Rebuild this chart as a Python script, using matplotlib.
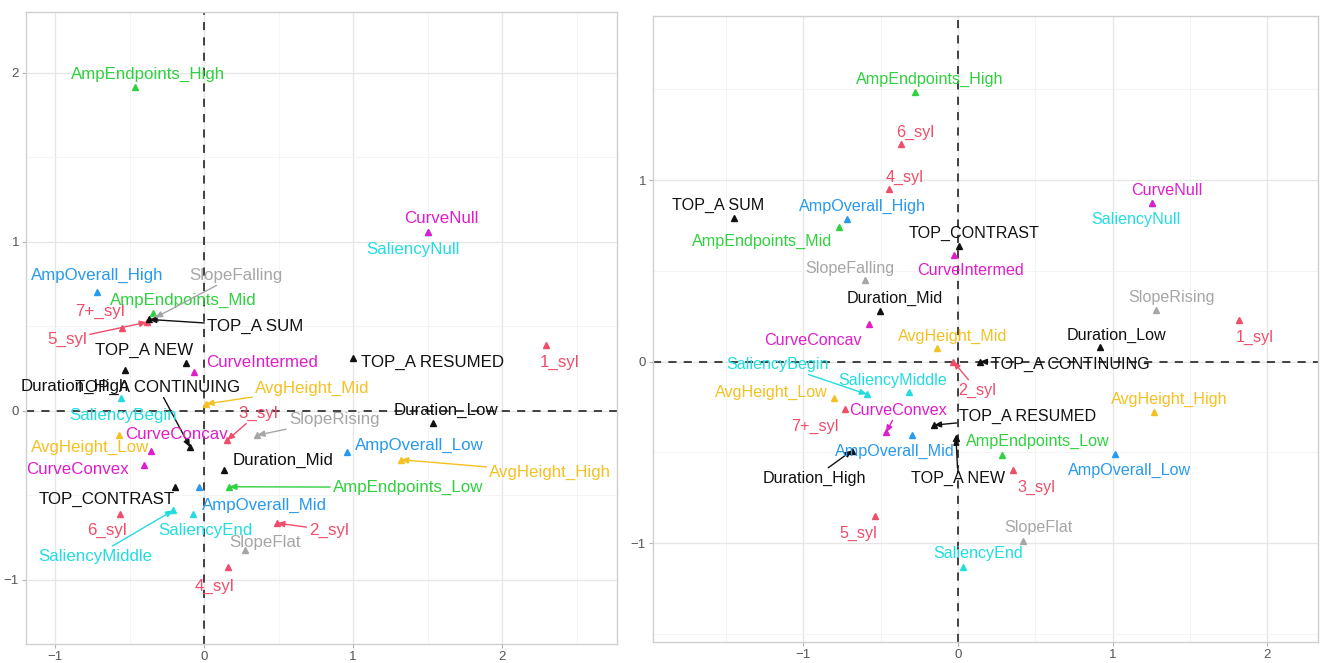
import numpy as np
import matplotlib
matplotlib.use("Agg")
import matplotlib.pyplot as plt
from matplotlib.ticker import MultipleLocator

plt.rcParams['font.family'] = ['Liberation Sans', 'DejaVu Sans']

# Category names (shared by both maps)
names = ["1_syl", "2_syl", "3_syl", "4_syl", "5_syl", "6_syl", "7+_syl",
         "TOP_A NEW", "TOP_A CONTINUING", "TOP_A RESUMED", "TOP_A SUM", "TOP_CONTRAST",
         "Duration_Low", "Duration_Mid", "Duration_High",
         "AmpEndpoints_Low", "AmpEndpoints_Mid", "AmpEndpoints_High",
         "AmpOverall_Low", "AmpOverall_Mid", "AmpOverall_High",
         "AvgHeight_Low", "AvgHeight_Mid", "AvgHeight_High",
         "CurveConcav", "CurveConvex", "CurveIntermed", "CurveNull",
         "SaliencyBegin", "SaliencyMiddle", "SaliencyEnd", "SaliencyNull",
         "SlopeFalling", "SlopeFlat", "SlopeRising"]

# Left map coordinates (dim 1, dim 2)
left_x = [2.295, 0.49, 0.154, 0.16, -0.383, -0.564, -0.55,
          -0.12, -0.094, 1.0, -0.369, -0.195,
          1.537, 0.134, -0.53,
          0.168, -0.342, -0.463,
          0.96, -0.034, -0.718,
          -0.57, 0.013, 1.32,
          -0.356, -0.40, -0.067, 1.50,
          -0.557, -0.208, -0.074, 1.50,
          -0.33, 0.275, 0.356]
left_y = [0.39, -0.665, -0.175, -0.925, 0.524, -0.61, 0.49,
          0.28, -0.216, 0.31, 0.54, -0.45,
          -0.074, -0.35, 0.24,
          -0.45, 0.577, 1.915,
          -0.245, -0.45, 0.70,
          -0.145, 0.04, -0.29,
          -0.24, -0.32, 0.228, 1.06,
          0.074, -0.59, -0.61, 1.06,
          0.55, -0.825, -0.145]

# Right map coordinates (dim 1, dim 2)
right_x = [1.82, -0.03, 0.356, -0.446, -0.54, -0.37, -0.73,
           -0.013, 0.142, -0.155, -1.45, 0.006,
           0.92, -0.505, -0.686,
           0.285, -0.77, -0.28,
           1.015, -0.30, -0.72,
           -0.80, -0.136, 1.27,
           -0.576, -0.466, -0.026, 1.255,
           -0.59, -0.32, 0.03, 1.255,
           -0.60, 0.42, 1.28]
right_y = [0.23, 0.0, -0.60, 0.95, -0.85, 1.20, -0.26,
           -0.42, 0.0, -0.35, 0.79, 0.636,
           0.08, 0.28, -0.49,
           -0.515, 0.74, 1.485,
           -0.51, -0.405, 0.785,
           -0.20, 0.075, -0.28,
           0.207, -0.39, 0.59, 0.875,
           -0.18, -0.17, -1.13, 0.875,
           0.45, -0.99, 0.285]

# Label placement (repelled label centres, data units)
left_lab_x = [2.383, 0.839, 0.362, 0.067, -0.919, -0.651, -0.698,
              -0.403, -0.309, 1.530, 0.342, -0.651,
              1.624, 0.530, -0.866,
              1.369, -0.141, -0.376,
              1.443, 0.403, -0.718,
              -0.765, 0.725, 2.322,
              -0.188, -0.852, 0.389, 1.591,
              -0.544, -0.732, 0.007, 1.403,
              0.215, 0.409, 0.872]
left_lab_y = [0.287, -0.707, -0.015, -1.039, 0.423, -0.707, 0.589,
              0.358, 0.139, 0.287, 0.500, -0.524,
              0.003, -0.293, 0.145,
              -0.453, 0.654, 1.991,
              -0.204, -0.559, 0.802,
              -0.216, 0.133, -0.364,
              -0.139, -0.346, 0.287, 1.139,
              -0.027, -0.861, -0.707, 0.956,
              0.802, -0.778, -0.050]
right_lab_x = [1.922, 0.123, 0.505, -0.343, -0.647, -0.278, -0.926,
               0.0, 0.725, 0.453, -1.553, 0.104,
               1.023, -0.408, -0.932,
               0.518, -1.269, -0.181,
               1.113, -0.408, -0.621,
               -1.210, -0.032, 1.366,
               -0.939, -0.388, 0.078, 1.353,
               -1.165, -0.421, 0.129, 1.152,
               -0.699, 0.518, 1.379]
right_lab_y = [0.135, -0.157, -0.691, 1.017, -0.945, 1.264, -0.355,
               -0.642, -0.014, -0.300, 0.862, 0.708,
               0.146, 0.350, -0.642,
               -0.438, 0.664, 1.556,
               -0.598, -0.493, 0.857,
               -0.168, 0.140, -0.207,
               0.118, -0.267, 0.504, 0.945,
               -0.014, -0.102, -1.055, 0.785,
               0.515, -0.912, 0.355]

left_lines = {"SlopeFalling", "TOP_A SUM", "5_syl", "TOP_A CONTINUING", "AvgHeight_Mid",
              "3_syl", "SlopeRising", "AvgHeight_High", "AmpEndpoints_Low",
              "SaliencyMiddle", "2_syl"}
right_lines = {"SaliencyBegin", "2_syl", "CurveConvex", "TOP_A RESUMED", "TOP_A NEW",
               "Duration_High", "TOP_A CONTINUING"}

group_colors = [("_syl", "#F04D6A"), ("TOP_", "#111111"), ("Duration", "#111111"),
                ("AmpEndpoints", "#2FD13F"), ("AmpOverall", "#2799F0"),
                ("AvgHeight", "#F5C022"), ("Curve", "#E01DCC"),
                ("Saliency", "#22DCE0"), ("Slope", "#A6A6A6")]


def color_of(name):
    for key, col in group_colors:
        if key in name:
            return col
    return "black"


def draw_map(ax, xs, ys, lx, ly, lines, fs, xlim, ylim):
    ax.set_xlim(*xlim)
    ax.set_ylim(*ylim)
    ax.xaxis.set_major_locator(MultipleLocator(1))
    ax.yaxis.set_major_locator(MultipleLocator(1))
    ax.xaxis.set_minor_locator(MultipleLocator(0.5))
    ax.yaxis.set_minor_locator(MultipleLocator(0.5))
    ax.grid(which="major", color="#e6e6e6", lw=0.9)
    ax.grid(which="minor", color="#f2f2f2", lw=0.6)
    ax.set_axisbelow(True)
    for sp in ax.spines.values():
        sp.set_color("#d0d0d0")
        sp.set_linewidth(1.0)
    ax.tick_params(which="major", length=3, color="#b3b3b3", labelcolor="#555555",
                   labelsize=9.5, pad=2)
    ax.tick_params(which="minor", length=0)
    ax.axhline(0, color="#333333", lw=1.3, ls=(0, (4.5, 4)), zorder=1)
    ax.axvline(0, color="#333333", lw=1.3, ls=(0, (4.5, 4)), zorder=1)
    for i, n in enumerate(names):
        c = color_of(n)
        # curve categories sit on top of the coincident saliency ones
        z = 3.5 if n.startswith("Curve") else 3
        ax.plot(xs[i], ys[i], marker="^", ms=4.5, color=c, ls="none", zorder=z)
        if n in lines:
            ax.annotate(n, xy=(xs[i], ys[i]), xytext=(lx[i], ly[i]),
                        ha="center", va="center", fontsize=fs, color=c, zorder=4,
                        arrowprops=dict(arrowstyle="-|>,head_length=0.35,head_width=0.15",
                                        color=c, lw=1.0, shrinkA=0, shrinkB=0))
        else:
            ax.text(lx[i], ly[i], n, ha="center", va="center", fontsize=fs,
                    color=c, zorder=4)


fig = plt.figure(figsize=(13.2, 6.63), dpi=100)
ax1 = fig.add_axes([0.0197, 0.0287, 0.4477, 0.953])
ax2 = fig.add_axes([0.4947, 0.0317, 0.5038, 0.944])

draw_map(ax1, left_x, left_y, left_lab_x, left_lab_y, left_lines, 12.2,
         (-1.195, 2.77), (-1.38, 2.358))
draw_map(ax2, right_x, right_y, right_lab_x, right_lab_y, right_lines, 11.6,
         (-1.974, 2.33), (-1.545, 1.904))

fig.savefig("out.png", dpi=100)
